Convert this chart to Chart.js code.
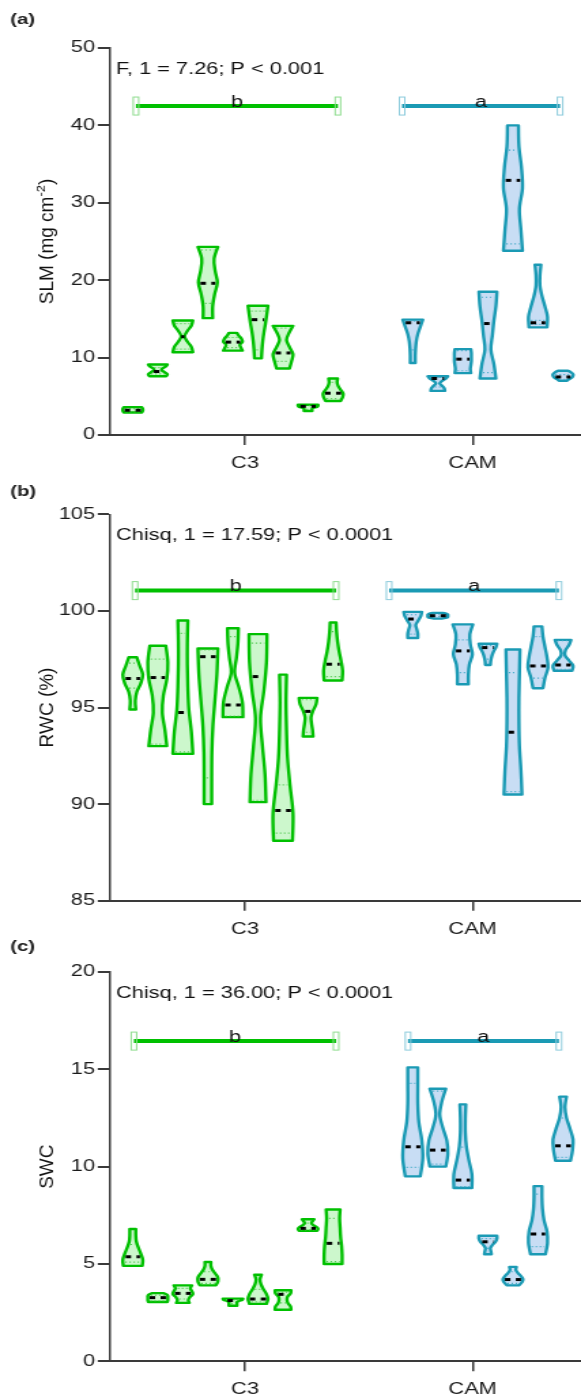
<!DOCTYPE html>
<html>
<head>
<meta charset="utf-8">
<script src="https://cdn.jsdelivr.net/npm/chart.js@4.4.1/dist/chart.umd.min.js"></script>
<style>
  html, body { margin: 0; padding: 0; background: #fff; }
  #wrap { position: relative; width: 581px; height: 1398px; overflow: hidden; }
  canvas { position: absolute; left: 0; }
</style>
</head>
<body>
<div id="wrap">
  <canvas id="slm" width="427" height="470" style="top:0px;width:581px;height:470px"></canvas>
  <canvas id="rwc" width="427" height="465" style="top:470px;width:581px;height:465px"></canvas>
  <canvas id="swc" width="427" height="463" style="top:935px;width:581px;height:463px"></canvas>
</div>
<script>
// the figure's text is wide, so each canvas is drawn narrower and stretched
const S = 581 / 427;
const FAM = '"Liberation Sans", Arial, sans-serif';
const AXIS = '#3a3a3a';

const groups = ['C3', 'CAM'];
const groupLetters = ['b', 'a'];

// each violin: [min, q1, median, q3, max]
// each shape: relative width from max (top) down to min (bottom)

// (a) SLM
const slmTicks = [0, 10, 20, 30, 40, 50];
const slmStat = 'F, 1 = 7.26; P < 0.001';
const slmBar = 42.5;
const slmC3 = [
  [2.9, 3.0, 3.2, 3.4, 3.6],
  [7.6, 7.9, 8.2, 8.7, 9.1],
  [10.7, 11.1, 12.7, 14.4, 14.8],
  [15.1, 17.0, 19.6, 23.9, 24.3],
  [10.9, 11.3, 12.0, 12.6, 13.2],
  [9.9, 11.0, 14.9, 16.0, 16.7],
  [8.6, 9.5, 10.6, 13.8, 14.1],
  [3.1, 3.3, 3.7, 3.8, 3.9],
  [4.4, 4.7, 5.4, 6.8, 7.3]
];
const slmC3Shape = [
  [0.9, 0.95, 1, 1, 1, 0.95, 0.9],
  [0.95, 0.8, 0.45, 0.4, 0.7, 0.95, 0.85],
  [1, 0.85, 0.45, 0.12, 0.45, 0.85, 1],
  [1, 0.62, 0.72, 0.95, 0.67, 0.48, 0.48],
  [0.4, 0.6, 0.85, 0.95, 0.7, 0.8, 0.95],
  [1, 0.88, 0.75, 0.6, 0.48, 0.4, 0.35],
  [1, 0.6, 0.35, 0.65, 1, 0.85, 0.65],
  [1, 1, 0.9, 0.5, 0.4, 0.4, 0.4],
  [0.45, 0.4, 0.5, 0.75, 1, 0.95, 0.75]
];
const slmCAM = [
  [9.3, 11.0, 14.5, 14.7, 14.9],
  [5.7, 6.2, 7.3, 7.45, 7.6],
  [8.0, 8.3, 9.8, 10.9, 11.1],
  [7.3, 8.05, 14.4, 17.8, 18.5],
  [23.8, 24.7, 32.9, 36.8, 40.0],
  [13.9, 14.3, 14.5, 14.8, 22.0],
  [7.0, 7.2, 7.5, 7.8, 8.3]
];
const slmCAMShape = [
  [1, 0.75, 0.5, 0.35, 0.28, 0.25, 0.25],
  [1, 0.8, 0.4, 0.2, 0.45, 0.65, 0.7],
  [0.8, 0.85, 0.85, 0.85, 0.8, 0.75, 0.8],
  [0.9, 0.8, 0.6, 0.45, 0.3, 0.6, 0.8],
  [0.55, 0.6, 0.85, 0.95, 0.65, 0.8, 0.95],
  [0.3, 0.2, 0.2, 0.4, 0.7, 0.95, 0.9],
  [0.5, 0.8, 1, 1, 0.9, 0.6, 0.4]
];

// (b) RWC
const rwcTicks = [85, 90, 95, 100, 105];
const rwcStat = 'Chisq, 1 = 17.59; P < 0.0001';
const rwcBar = 101.05;
const rwcC3 = [
  [94.9, 96.0, 96.5, 97.3, 97.6],
  [93.0, 93.1, 96.55, 97.5, 98.2],
  [92.6, 92.7, 94.74, 98.84, 99.5],
  [90.0, 91.36, 97.63, 97.98, 98.05],
  [94.5, 94.55, 95.13, 98.67, 99.1],
  [90.1, 90.2, 96.6, 98.33, 98.8],
  [88.1, 88.5, 89.67, 91.0, 96.7],
  [93.5, 93.72, 94.8, 95.4, 95.5],
  [96.4, 96.6, 97.24, 98.93, 99.4]
];
const rwcC3Shape = [
  [0.4, 0.7, 1, 0.8, 0.4, 0.25, 0.3],
  [0.8, 1, 0.9, 0.55, 0.45, 0.7, 0.9],
  [0.5, 0.45, 0.45, 0.5, 0.6, 0.85, 1],
  [1, 0.9, 0.7, 0.5, 0.4, 0.38, 0.38],
  [0.55, 0.5, 0.35, 0.15, 0.6, 0.95, 1],
  [0.9, 0.85, 0.6, 0.25, 0.45, 0.7, 0.8],
  [0.35, 0.3, 0.35, 0.45, 0.7, 1, 0.95],
  [0.9, 0.8, 0.5, 0.3, 0.35, 0.45, 0.5],
  [0.3, 0.35, 0.45, 0.6, 0.8, 0.95, 0.9]
];
const rwcCAM = [
  [98.6, 98.8, 99.58, 99.8, 99.95],
  [99.6, 99.7, 99.75, 99.8, 99.9],
  [96.2, 96.8, 97.93, 98.5, 99.3],
  [97.2, 97.5, 98.1, 98.2, 98.3],
  [90.5, 90.65, 93.72, 96.8, 98.0],
  [96.0, 96.52, 97.15, 98.67, 99.2],
  [96.9, 96.98, 97.2, 98.46, 98.5]
];
const rwcCAMShape = [
  [0.9, 0.8, 0.55, 0.3, 0.4, 0.5, 0.5],
  [0.4, 0.9, 1, 1, 1, 0.9, 0.4],
  [1, 0.7, 0.75, 0.95, 0.65, 0.55, 0.55],
  [0.9, 0.8, 0.6, 0.45, 0.35, 0.28, 0.25],
  [0.7, 0.65, 0.6, 0.6, 0.65, 0.8, 0.9],
  [0.4, 0.5, 0.7, 0.9, 1, 0.7, 0.5],
  [0.8, 0.6, 0.25, 0.2, 0.6, 1, 0.9]
];

// (c) SWC
const swcTicks = [0, 5, 10, 15, 20];
const swcStat = 'Chisq, 1 = 36.00; P < 0.0001';
const swcBar = 16.45;
const swcC3 = [
  [4.9, 5.1, 5.37, 6.0, 6.8],
  [3.05, 3.1, 3.27, 3.4, 3.5],
  [3.0, 3.2, 3.49, 3.75, 3.9],
  [3.9, 4.0, 4.21, 4.6, 5.1],
  [2.85, 2.95, 3.12, 3.17, 3.22],
  [2.95, 3.05, 3.2, 3.7, 4.45],
  [2.65, 3.0, 3.44, 3.55, 3.65],
  [6.7, 6.75, 6.83, 7.1, 7.3],
  [5.0, 5.12, 6.06, 7.34, 7.8]
];
const swcC3Shape = [
  [0.3, 0.3, 0.35, 0.55, 0.8, 1, 0.95],
  [0.6, 0.9, 1, 1, 1, 1, 0.95],
  [0.9, 0.75, 0.9, 1, 0.7, 0.55, 0.65],
  [0.3, 0.3, 0.45, 0.75, 1, 1, 0.8],
  [1, 0.95, 0.6, 0.4, 0.4, 0.4, 0.4],
  [0.35, 0.2, 0.3, 0.55, 0.85, 1, 0.85],
  [0.8, 0.75, 0.45, 0.4, 0.5, 0.75, 0.8],
  [0.6, 0.45, 0.35, 0.5, 0.85, 1, 0.9],
  [0.7, 0.65, 0.7, 0.75, 0.85, 0.9, 0.9]
];
const swcCAM = [
  [9.5, 9.96, 11.02, 14.28, 15.1],
  [10.0, 10.13, 10.85, 13.88, 14.0],
  [8.9, 8.97, 9.31, 11.0, 13.2],
  [5.5, 5.8, 6.14, 6.3, 6.45],
  [3.9, 4.0, 4.2, 4.6, 4.85],
  [5.5, 5.89, 6.54, 8.59, 9.0],
  [10.3, 10.48, 11.07, 12.5, 13.6]
];
const swcCAMShape = [
  [0.5, 0.5, 0.5, 0.6, 0.9, 1, 0.75],
  [0.8, 0.4, 0.2, 0.5, 0.9, 1, 0.8],
  [0.3, 0.25, 0.25, 0.35, 0.6, 0.9, 0.9],
  [0.9, 0.9, 0.75, 0.45, 0.25, 0.3, 0.35],
  [0.35, 0.3, 0.5, 0.8, 1, 0.9, 0.6],
  [0.4, 0.4, 0.45, 0.6, 0.9, 0.95, 0.75],
  [0.35, 0.2, 0.35, 0.7, 1, 0.95, 0.75]
];

// x layout (axis units: C3 tick = 1, CAM tick = 2)
const X_MIN = 0.407, X_MAX = 2.476;
const CENTERS = [0.947, 2.067];
const SPACING = 0.11;
const HALF_W = 0.044;

const COLORS = [
  { line: '#00c000', fill: '#ccf7cc', dot: '#4cc84c', cap: '#8edc8e' },
  { line: '#1a9ab4', fill: '#c8ddf4', dot: '#3fa9c8', cap: '#8ccbdc' }
];

Chart.defaults.font.family = FAM;

function widthAt(st, shape, v) {
  const lo = st[0], hi = st[4], n = shape.length;
  if (hi === lo) return shape[0];
  let t = (hi - v) / (hi - lo) * (n - 1);
  t = Math.max(0, Math.min(n - 1, t));
  const k = Math.min(n - 2, Math.floor(t));
  return shape[k] + (shape[k + 1] - shape[k]) * (t - k);
}

// smooth curve through points (catmull-rom), already at pts[0]
function curveThrough(ctx, pts) {
  for (let i = 0; i < pts.length - 1; i++) {
    const p0 = pts[Math.max(0, i - 1)], p1 = pts[i], p2 = pts[i + 1], p3 = pts[Math.min(pts.length - 1, i + 2)];
    ctx.bezierCurveTo(
      p1[0] + (p2[0] - p0[0]) / 6, p1[1] + (p2[1] - p0[1]) / 6,
      p2[0] - (p3[0] - p1[0]) / 6, p2[1] - (p3[1] - p1[1]) / 6,
      p2[0], p2[1]);
  }
}

function drawViolin(ctx, xs, ys, pos, st, shape, col) {
  const [lo, q1, med, q3, hi] = st;
  const n = shape.length;
  const xc = xs.getPixelForValue(pos);
  const unit = xs.getPixelForValue(pos + HALF_W) - xc;
  const right = [], left = [];
  for (let k = 0; k < n; k++) {
    const v = hi - (hi - lo) * k / (n - 1);
    const w = Math.max(shape[k] * unit, 1.3);
    const y = ys.getPixelForValue(v);
    right.push([xc + w, y]);
    left.push([xc - w, y]);
  }
  ctx.save();
  ctx.beginPath();
  ctx.moveTo(left[0][0], left[0][1]);
  ctx.lineTo(right[0][0], right[0][1]);
  curveThrough(ctx, right);
  ctx.lineTo(left[n - 1][0], left[n - 1][1]);
  curveThrough(ctx, left.slice().reverse());
  ctx.closePath();
  ctx.fillStyle = col.fill;
  ctx.fill();
  ctx.lineWidth = 2.4;
  ctx.lineJoin = 'round';
  ctx.strokeStyle = col.line;
  ctx.stroke();

  // quartiles, dotted
  ctx.setLineDash([1, 2]);
  ctx.lineWidth = 1.2;
  ctx.strokeStyle = col.dot;
  [q1, q3].forEach(q => {
    const w = Math.max(widthAt(st, shape, q) * unit - 1.8, 0.8);
    const y = ys.getPixelForValue(q);
    ctx.beginPath();
    ctx.moveTo(xc - w, y);
    ctx.lineTo(xc + w, y);
    ctx.stroke();
  });

  // median, dashed black
  const wm = Math.max(widthAt(st, shape, med) * unit - 1.4, 1.2);
  const ym = ys.getPixelForValue(med);
  ctx.setLineDash([4, 4]);
  ctx.lineWidth = 3;
  ctx.strokeStyle = '#000';
  ctx.beginPath();
  ctx.moveTo(xc - wm, ym);
  ctx.lineTo(xc + wm, ym);
  ctx.stroke();
  ctx.restore();
}

function drawYTitle(ctx, parts, cx, cy) {
  ctx.save();
  ctx.translate(cx, cy);
  ctx.rotate(-Math.PI / 2);
  ctx.scale(1, 1 / S);
  const big = '19px ' + FAM, small = '13px ' + FAM;
  let total = 0;
  parts.forEach(p => { ctx.font = p.sup ? small : big; total += ctx.measureText(p.t).width; });
  let u = -total / 2;
  ctx.fillStyle = '#111';
  ctx.textAlign = 'left';
  ctx.textBaseline = 'alphabetic';
  parts.forEach(p => {
    ctx.font = p.sup ? small : big;
    ctx.fillText(p.t, u, p.sup ? -1.5 : 7);
    u += ctx.measureText(p.t).width;
  });
  ctx.restore();
}

function makePanel(id, p) {
  const panelPlugin = {
    id: 'violins',
    afterDatasetsDraw(chart) {
      const ctx = chart.ctx, xs = chart.scales.x, ys = chart.scales.y;
      p.sets.forEach((set, gi) => {
        const col = COLORS[gi];
        set.stats.forEach((st, i) => {
          const pos = CENTERS[gi] + (i - (set.stats.length - 1) / 2) * SPACING;
          drawViolin(ctx, xs, ys, pos, st, set.shape[i], col);
        });
        // significance bar with its letter
        const x0 = xs.getPixelForValue(p.bars[gi][0]);
        const x1 = xs.getPixelForValue(p.bars[gi][1]);
        const yb = ys.getPixelForValue(p.barY);
        ctx.save();
        ctx.strokeStyle = col.line;
        ctx.lineWidth = 4;
        ctx.beginPath();
        ctx.moveTo(x0, yb);
        ctx.lineTo(x1, yb);
        ctx.stroke();
        ctx.strokeStyle = col.cap;
        ctx.lineWidth = 1;
        [x0, x1].forEach(xe => ctx.strokeRect(xe - 2, yb - 9, 4, 18));
        ctx.fillStyle = '#111';
        ctx.font = '16px ' + FAM;
        ctx.textAlign = 'center';
        ctx.textBaseline = 'alphabetic';
        ctx.fillText(groupLetters[gi], (x0 + x1) / 2, yb + 0.5);
        ctx.restore();
      });
      ctx.save();
      ctx.fillStyle = '#111';
      ctx.font = '16px ' + FAM;
      ctx.textAlign = 'left';
      ctx.textBaseline = 'alphabetic';
      ctx.fillText(p.stat, 85.3, chart.chartArea.top + 26);
      ctx.restore();
    },
    afterDraw(chart) {
      const ctx = chart.ctx;
      ctx.save();
      ctx.fillStyle = '#222';
      ctx.font = 'bold 15px ' + FAM;
      ctx.textAlign = 'left';
      ctx.textBaseline = 'alphabetic';
      ctx.fillText(p.label, 7.4, p.labelY);
      ctx.restore();
      const ca = chart.chartArea;
      drawYTitle(ctx, p.title, 46 / S, (ca.top + ca.bottom) / 2);
    }
  };

  return new Chart(document.getElementById(id), {
    type: 'scatter',
    data: { datasets: [] },
    options: {
      responsive: false,
      animation: false,
      layout: { padding: { top: p.top, left: 0, right: 0, bottom: 0 } },
      plugins: { legend: { display: false }, tooltip: { enabled: false } },
      scales: {
        x: {
          type: 'linear',
          min: X_MIN,
          max: X_MAX,
          afterBuildTicks: s => { s.ticks = groups.map((g, i) => ({ value: i + 1 })); },
          ticks: { callback: v => groups[Math.round(v) - 1], font: { size: 16 }, color: '#1a1a1a', padding: 9 },
          grid: { drawOnChartArea: false, drawTicks: true, tickLength: 10, color: AXIS, lineWidth: 1.5 },
          border: { display: true, color: AXIS, width: 2 },
          afterFit: s => { s.height = p.xHeight; }
        },
        y: {
          type: 'linear',
          min: p.ticks[0],
          max: p.ticks[p.ticks.length - 1],
          afterBuildTicks: s => { s.ticks = p.ticks.map(v => ({ value: v })); },
          ticks: { callback: v => String(v), font: { size: 16 }, color: '#1a1a1a', padding: 2 },
          grid: { drawOnChartArea: false, drawTicks: true, tickLength: 9, color: AXIS, lineWidth: 2 },
          border: { display: true, color: AXIS, width: 1.5 },
          afterFit: s => { s.width = 110 / S; }
        }
      }
    },
    plugins: [panelPlugin]
  });
}

makePanel('slm', {
  top: 48, xHeight: 35, ticks: slmTicks, stat: slmStat, barY: slmBar,
  bars: [[0.521, 1.408], [1.690, 2.384]],
  sets: [{ stats: slmC3, shape: slmC3Shape }, { stats: slmCAM, shape: slmCAMShape }],
  label: '(a)', labelY: 24,
  title: [{ t: 'SLM (mg cm' }, { t: '-2', sup: true }, { t: ')' }]
});
makePanel('rwc', {
  top: 44.3, xHeight: 34.3, ticks: rwcTicks, stat: rwcStat, barY: rwcBar,
  bars: [[0.517, 1.400], [1.633, 2.379]],
  sets: [{ stats: rwcC3, shape: rwcC3Shape }, { stats: rwcCAM, shape: rwcCAMShape }],
  label: '(b)', labelY: 26,
  title: [{ t: 'RWC (%)' }]
});
makePanel('swc', {
  top: 37, xHeight: 36.7, ticks: swcTicks, stat: swcStat, barY: swcBar,
  bars: [[0.512, 1.400], [1.716, 2.379]],
  sets: [{ stats: swcC3, shape: swcC3Shape }, { stats: swcCAM, shape: swcCAMShape }],
  label: '(c)', labelY: 16,
  title: [{ t: 'SWC' }]
});
</script>
</body>
</html>
